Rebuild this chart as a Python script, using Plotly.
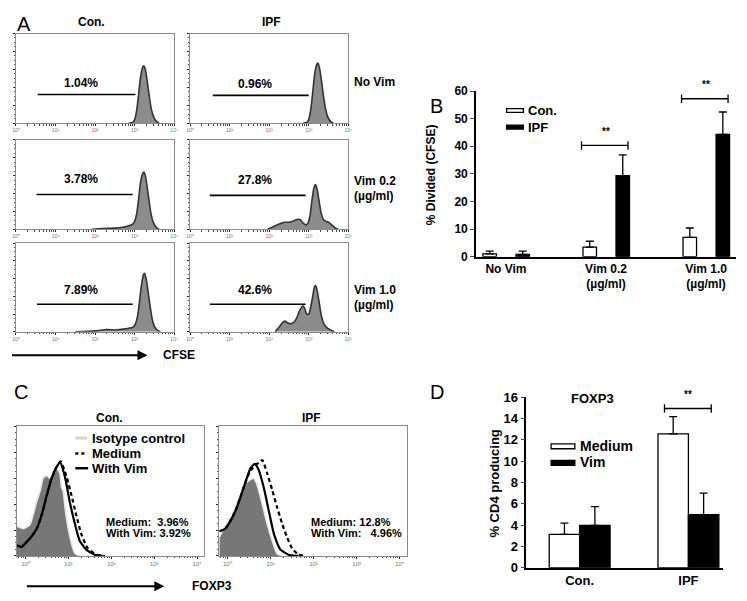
import math
import plotly.graph_objects as go

# The page body has an 8px margin, so the figure is sized to fit the window after it.
OFF = 8
FW, FH = 747 - OFF, 601 - OFF
FONT = "Arial, Liberation Sans, sans-serif"

# ---------------- Panel A data (x = log10 CFSE, y = % of max events) ----------------
cfse_con_novim_x = [2.85, 2.95, 3.0, 3.05, 3.1, 3.15, 3.2, 3.23, 3.27, 3.32, 3.37, 3.42, 3.48, 3.55, 3.62]
cfse_con_novim_y = [0, 1, 4, 14, 32, 52, 62, 64, 60, 46, 30, 16, 7, 2, 0]
cfse_ipf_novim_x = [2.85, 2.95, 3.0, 3.05, 3.1, 3.15, 3.2, 3.23, 3.27, 3.32, 3.37, 3.42, 3.48, 3.55, 3.62]
cfse_ipf_novim_y = [0, 1, 4, 15, 34, 55, 65, 67, 62, 48, 31, 17, 7, 2, 0]
cfse_con_vim02_x = [1.9, 2.2, 2.5, 2.7, 2.85, 2.95, 3.0, 3.05, 3.1, 3.15, 3.2, 3.23, 3.27, 3.32, 3.37, 3.42, 3.48, 3.55, 3.62]
cfse_con_vim02_y = [0, 1, 1.5, 2.5, 4, 6, 9, 17, 34, 53, 62, 64, 60, 46, 30, 16, 7, 2, 0]
cfse_ipf_vim02_x = [1.95, 2.1, 2.25, 2.4, 2.5, 2.6, 2.7, 2.78, 2.86, 2.93, 2.98, 3.03, 3.08, 3.13, 3.17, 3.21, 3.26, 3.31, 3.37, 3.43, 3.5, 3.58, 3.66, 3.75]
cfse_ipf_vim02_y = [0, 3, 6, 8, 8, 9, 11, 11, 7, 5, 7, 15, 32, 46, 50, 45, 32, 19, 11, 9, 8, 5, 2, 0]
cfse_con_vim10_x = [1.5, 2.0, 2.3, 2.5, 2.7, 2.85, 2.95, 3.02, 3.07, 3.12, 3.17, 3.22, 3.25, 3.29, 3.34, 3.39, 3.44, 3.5, 3.57, 3.65]
cfse_con_vim10_y = [0, 1, 2.5, 2, 3, 4, 5, 9, 17, 33, 52, 64, 66, 60, 45, 29, 15, 6, 2, 0]
cfse_ipf_vim10_x = [2.15, 2.25, 2.33, 2.4, 2.47, 2.55, 2.63, 2.7, 2.76, 2.82, 2.86, 2.9, 2.95, 3.0, 3.05, 3.1, 3.14, 3.17, 3.21, 3.26, 3.31, 3.37, 3.45, 3.55, 3.65]
cfse_ipf_vim10_y = [0, 5, 10, 12, 10, 9, 11, 16, 23, 28, 29, 26, 20, 20, 28, 40, 50, 52, 47, 34, 20, 10, 5, 2, 0]

gate_labels = [["1.04%", "0.96%"], ["3.78%", "27.8%"], ["7.89%", "42.6%"]]
gate_start = [[0.55, 0.575], [0.52, 0.50], [0.53, 0.50]]
gate_end = [[3.02, 3.00], [2.95, 2.92], [2.95, 2.92]]
gate_level = [[32, 31], [39, 38], [31, 31]]
row_labels = [["No Vim"], ["Vim 0.2", "(µg/ml)"], ["Vim 1.0", "(µg/ml)"]]
col_titles_A = ["Con.", "IPF"]

# ---------------- Panel B data ----------------
categories_B = ["No Vim", "Vim 0.2<br>(µg/ml)", "Vim 1.0<br>(µg/ml)"]
con_B = [1.0, 3.5, 7.0]
con_B_err = [1.0, 2.1, 3.4]
ipf_B = [0.8, 29.4, 44.3]
ipf_B_err = [1.2, 7.5, 8.1]
sig_B_cat = [1, 2]
sig_B_level = [40.3, 57.2]

# ---------------- Panel C data (x = log10 FOXP3, y = % of max) ----------------
foxp3_con_iso_x = [-0.2, -0.05, 0.1, 0.18, 0.26, 0.34, 0.41, 0.49, 0.57, 0.65, 0.72, 0.8, 0.84, 0.88, 0.92, 0.99, 1.07, 1.15, 1.26]
foxp3_con_iso_y = [23, 21, 24, 32, 42, 50, 60, 62, 60, 65, 68, 64, 53, 50, 38, 22, 10, 2, 0]
foxp3_con_med_x = [-0.2, -0.09, 0.03, 0.14, 0.26, 0.38, 0.49, 0.61, 0.73, 0.82, 0.95, 1.07, 1.18, 1.3, 1.45, 1.65, 1.85]
foxp3_con_med_y = [8, 7, 11, 15, 21, 32, 46, 60, 69, 73, 62, 47, 32, 17, 6, 1, 0]
foxp3_con_vim_x = [-0.2, -0.09, 0.03, 0.14, 0.26, 0.38, 0.49, 0.61, 0.73, 0.81, 0.92, 1.03, 1.15, 1.26, 1.41, 1.61, 1.8]
foxp3_con_vim_y = [8, 7, 11, 15, 21, 32, 46, 60, 69, 72, 61, 42, 25, 12, 5, 1, 0]
foxp3_ipf_iso_x = [-0.18, -0.05, 0.07, 0.19, 0.31, 0.42, 0.54, 0.61, 0.69, 0.81, 0.92, 1.04, 1.15, 1.27]
foxp3_ipf_iso_y = [15, 23, 30, 38, 47, 56, 59, 60, 55, 40, 25, 12, 2, 0]
foxp3_ipf_vim_x = [-0.18, -0.05, 0.07, 0.19, 0.31, 0.42, 0.54, 0.64, 0.73, 0.85, 0.96, 1.08, 1.23, 1.42, 1.65]
foxp3_ipf_vim_y = [19, 21, 27, 35, 46, 57, 68, 71, 66, 52, 35, 17, 5, 1, 0]
foxp3_ipf_med_x = [-0.18, -0.05, 0.07, 0.19, 0.31, 0.42, 0.54, 0.65, 0.73, 0.81, 0.92, 1.04, 1.15, 1.27, 1.39, 1.5, 1.65, 1.8]
foxp3_ipf_med_y = [19, 21, 27, 35, 46, 57, 66, 70, 72, 74, 64, 51, 38, 25, 14, 6, 1, 0]
stats_C = [["Medium:\u00a0\u00a03.96%", "With Vim: 3.92%"], ["Medium: 12.8%", "With Vim:\u00a0\u00a0\u00a04.96%"]]
col_titles_C = ["Con.", "IPF"]

# ---------------- Panel D data ----------------
categories_D = ["Con.", "IPF"]
medium_D = [3.13, 12.55]
medium_D_err = [1.04, 1.62]
vim_D = [3.96, 4.97]
vim_D_err = [1.77, 2.03]
sig_D_cat = [1]
sig_D_level = [14.93]

decade_text = ["10\u2070", "10\u00b9", "10\u00b2", "10\u00b3", "10\u2074"]


def dom_x(a, b):
    return [(a - OFF) / FW, (b - OFF) / FW]


def dom_y(top, bottom):
    return [1 - (bottom - OFF) / FH, 1 - (top - OFF) / FH]


def px(x):
    return (x - OFF) / FW


def py(y):
    return 1 - (y - OFF) / FH


fig = go.Figure()
layout = dict(width=FW, height=FH, margin=dict(l=0, r=0, t=0, b=0, pad=0),
              paper_bgcolor="white", plot_bgcolor="white", showlegend=False,
              font=dict(family=FONT, color="black"), hovermode=False)
annotations = []
shapes = []


def ax_names(i):
    return ("xaxis" if i == 1 else f"xaxis{i}", "yaxis" if i == 1 else f"yaxis{i}",
            "x" if i == 1 else f"x{i}", "y" if i == 1 else f"y{i}")


minor_log = [d + math.log10(k) for d in range(-1, 5) for k in range(2, 10)]


def facs_axes(i, xd, yd, xr, label_size):
    xa, ya, xs, ys = ax_names(i)
    layout[xa] = dict(domain=xd, anchor=ys, range=xr, showgrid=False, zeroline=False,
                      showline=True, linecolor="#8a8a8a", linewidth=1, mirror=True,
                      ticks="outside", ticklen=2, tickcolor="#222", tickwidth=1,
                      tickvals=[0, 1, 2, 3, 4], ticktext=decade_text,
                      tickfont=dict(size=label_size, color="#777"),
                      minor=dict(tickvals=minor_log, ticks="outside", ticklen=1.5, tickcolor="#444"))
    layout[ya] = dict(domain=yd, anchor=xs, range=[0, 100], showgrid=False, zeroline=False,
                      showline=True, linecolor="#8a8a8a", linewidth=1, mirror=True,
                      ticks="outside", ticklen=2, tickcolor="#222",
                      tickvals=[0, 20, 40, 60, 80, 100], showticklabels=False,
                      minor=dict(dtick=5, ticks="outside", ticklen=1, tickcolor="#555"))
    return xs, ys


# ---------------- Panel A ----------------
hist_A = [[(cfse_con_novim_x, cfse_con_novim_y), (cfse_ipf_novim_x, cfse_ipf_novim_y)],
          [(cfse_con_vim02_x, cfse_con_vim02_y), (cfse_ipf_vim02_x, cfse_ipf_vim02_y)],
          [(cfse_con_vim10_x, cfse_con_vim10_y), (cfse_ipf_vim10_x, cfse_ipf_vim10_y)]]
colsA = [(12, 172), (188, 348)]
rowsA = [(27, 119), (136, 228), (242, 333)]
label_offset = [13, 17, 16]
for r in range(3):
    for c in range(2):
        i = r * 2 + c + 1
        xs, ys = facs_axes(i, dom_x(*colsA[c]), dom_y(*rowsA[r]), [0, 4], 5)
        hx, hy = hist_A[r][c]
        fig.add_trace(go.Scatter(x=hx, y=hy, xaxis=xs, yaxis=ys, mode="lines", fill="tozeroy",
                                 fillcolor="#8c8c8c",
                                 line=dict(color="#333", width=1.6, shape="spline", smoothing=0.7)))
        fig.add_trace(go.Scatter(x=[gate_start[r][c], gate_end[r][c]], y=[gate_level[r][c]] * 2,
                                 xaxis=xs, yaxis=ys, mode="lines", line=dict(color="black", width=1.6)))
        annotations.append(dict(x=1.65, y=gate_level[r][c] + label_offset[r], xref=xs, yref=ys,
                                text=f"<b>{gate_labels[r][c]}</b>", showarrow=False,
                                font=dict(size=12), xanchor="center", yanchor="middle"))
    for k, t in enumerate(row_labels[r]):
        yy = [77, 178, 290][r] + 16 * k
        annotations.append(dict(x=px(352), y=py(yy), xref="paper", yref="paper", text=f"<b>{t}</b>",
                                showarrow=False, font=dict(size=12), xanchor="left", yanchor="middle"))

for c in range(2):
    annotations.append(dict(x=px([88, 270][c]), y=py(15), xref="paper", yref="paper",
                            text=f"<b>{col_titles_A[c]}</b>", showarrow=False, font=dict(size=12),
                            xanchor="center", yanchor="middle"))

annotations.append(dict(x=px(145), y=py(357), ax=-137, ay=0, xref="paper", yref="paper", text="",
                        showarrow=True, arrowhead=2, arrowsize=1, arrowwidth=2, arrowcolor="black"))
annotations.append(dict(x=px(177), y=py(357), xref="paper", yref="paper", text="<b>CFSE</b>",
                        showarrow=False, font=dict(size=12), xanchor="center", yanchor="middle"))

# ---------------- Panel B ----------------
xB = list(range(len(categories_B)))
fig.add_trace(go.Bar(x=xB, y=con_B, xaxis="x7", yaxis="y7", width=0.135, offset=-0.23,
                     marker=dict(color="white", line=dict(color="black", width=1.3)),
                     error_y=dict(type="data", symmetric=False, array=con_B_err, arrayminus=[0] * len(xB),
                                  color="black", thickness=1.3, width=4)))
fig.add_trace(go.Bar(x=xB, y=ipf_B, xaxis="x7", yaxis="y7", width=0.135, offset=0.10,
                     marker=dict(color="black", line=dict(color="black", width=1.3)),
                     error_y=dict(type="data", symmetric=False, array=ipf_B_err, arrayminus=[0] * len(xB),
                                  color="black", thickness=1.3, width=4)))
for cat, lvl in zip(sig_B_cat, sig_B_level):
    fig.add_trace(go.Scatter(x=[cat - 0.245, cat + 0.22], y=[lvl, lvl], xaxis="x7", yaxis="y7",
                             mode="lines+markers", cliponaxis=False,
                             line=dict(color="black", width=1.3),
                             marker=dict(symbol="line-ns", size=6, line=dict(color="black", width=1.3))))
    annotations.append(dict(x=cat, y=lvl, yshift=14, xref="x7", yref="y7", text="<b>**</b>", showarrow=False,
                            font=dict(size=10), xanchor="center", yanchor="middle"))
layout["xaxis7"] = dict(domain=dom_x(477, 740), anchor="y7", range=[-0.3, 2.3], showgrid=False,
                        zeroline=False, showline=True, linecolor="black", linewidth=1.5, ticks="",
                        tickvals=xB, ticktext=[f"<b>{t}</b>" for t in categories_B],
                        tickfont=dict(size=12))
layout["yaxis7"] = dict(domain=dom_y(86, 256), anchor="x7", range=[0, 60], dtick=10, showgrid=False,
                        zeroline=False, showline=True, linecolor="black", linewidth=1.5,
                        ticks="outside", ticklen=4, tickwidth=1.3, tickfont=dict(size=12, weight="bold"))
annotations.append(dict(x=px(431), y=py(172), xref="paper", yref="paper", text="<b>% Divided (CFSE)</b>",
                        textangle=-90, showarrow=False, font=dict(size=12), xanchor="center", yanchor="middle"))
# legend B
shapes.append(dict(type="rect", xref="paper", yref="paper", x0=px(508), x1=px(525), y0=py(108), y1=py(104),
                   fillcolor="white", line=dict(color="black", width=1.3)))
shapes.append(dict(type="rect", xref="paper", yref="paper", x0=px(508), x1=px(525), y0=py(125), y1=py(121),
                   fillcolor="black", line=dict(color="black", width=1.3)))
annotations.append(dict(x=px(528), y=py(106), xref="paper", yref="paper", text="<b>Con.</b>", showarrow=False,
                        font=dict(size=13), xanchor="left", yanchor="middle"))
annotations.append(dict(x=px(528), y=py(123), xref="paper", yref="paper", text="<b>IPF</b>", showarrow=False,
                        font=dict(size=13), xanchor="left", yanchor="middle"))

# ---------------- Panel C ----------------
curves_C = [((foxp3_con_iso_x, foxp3_con_iso_y), (foxp3_con_med_x, foxp3_con_med_y), (foxp3_con_vim_x, foxp3_con_vim_y)),
            ((foxp3_ipf_iso_x, foxp3_ipf_iso_y), (foxp3_ipf_med_x, foxp3_ipf_med_y), (foxp3_ipf_vim_x, foxp3_ipf_vim_y))]
colsC = [(13, 202), (217, 407)]
stat_x = [1.82, 1.89]
for c in range(2):
    i = 8 + c
    xs, ys = facs_axes(i, dom_x(*colsC[c]), dom_y(430, 563), [-0.2, 4.16], 6)
    iso, med, vim = curves_C[c]
    fig.add_trace(go.Scatter(x=iso[0], y=iso[1], xaxis=xs, yaxis=ys, mode="lines", fill="tozeroy",
                             fillcolor="#777777", line=dict(color="#e8e8e8", width=1.6, shape="spline", smoothing=0.5)))
    fig.add_trace(go.Scatter(x=med[0], y=med[1], xaxis=xs, yaxis=ys, mode="lines",
                             line=dict(color="black", width=2.2, dash="4px,3px", shape="spline", smoothing=0.5)))
    fig.add_trace(go.Scatter(x=vim[0], y=vim[1], xaxis=xs, yaxis=ys, mode="lines",
                             line=dict(color="black", width=2.2, shape="spline", smoothing=0.5)))
    for k, t in enumerate(stats_C[c]):
        annotations.append(dict(x=stat_x[c], y=[26, 18][k], xref=xs, yref=ys, text=f"<b>{t}</b>",
                                showarrow=False, font=dict(size=11), xanchor="left", yanchor="middle"))
    annotations.append(dict(x=px([107, 311][c]), y=py(421), xref="paper", yref="paper",
                            text=f"<b>{col_titles_C[c]}</b>", showarrow=False, font=dict(size=12),
                            xanchor="center", yanchor="middle"))
# legend C
shapes.append(dict(type="line", xref="paper", yref="paper", x0=px(72), x1=px(84), y0=py(442), y1=py(442),
                   line=dict(color="#d4d4d4", width=3)))
shapes.append(dict(type="line", xref="paper", yref="paper", x0=px(72), x1=px(84), y0=py(458), y1=py(458),
                   line=dict(color="black", width=2.5, dash="dot")))
shapes.append(dict(type="line", xref="paper", yref="paper", x0=px(72), x1=px(85), y0=py(473), y1=py(473),
                   line=dict(color="black", width=2.5)))
for t, yy in zip(["Isotype control", "Medium", "With Vim"], [442, 458, 473]):
    annotations.append(dict(x=px(87), y=py(yy), xref="paper", yref="paper", text=f"<b>{t}</b>",
                            showarrow=False, font=dict(size=13), xanchor="left", yanchor="middle"))
annotations.append(dict(x=px(162), y=py(594), ax=-139, ay=0, xref="paper", yref="paper", text="",
                        showarrow=True, arrowhead=2, arrowsize=1, arrowwidth=2, arrowcolor="black"))
annotations.append(dict(x=px(210), y=py(594), xref="paper", yref="paper", text="<b>FOXP3</b>",
                        showarrow=False, font=dict(size=12), xanchor="center", yanchor="middle"))

# ---------------- Panel D ----------------
xD = list(range(len(categories_D)))
fig.add_trace(go.Bar(x=xD, y=medium_D, xaxis="x10", yaxis="y10", width=0.28, offset=-0.28,
                     marker=dict(color="white", line=dict(color="black", width=1.3)),
                     error_y=dict(type="data", symmetric=False, array=medium_D_err, arrayminus=[0] * len(xD),
                                  color="black", thickness=1.3, width=4)))
fig.add_trace(go.Bar(x=xD, y=vim_D, xaxis="x10", yaxis="y10", width=0.28, offset=0.0,
                     marker=dict(color="black", line=dict(color="black", width=1.3)),
                     error_y=dict(type="data", symmetric=False, array=vim_D_err, arrayminus=[0] * len(xD),
                                  color="black", thickness=1.3, width=4)))
for cat, lvl in zip(sig_D_cat, sig_D_level):
    fig.add_trace(go.Scatter(x=[cat - 0.22, cat + 0.21], y=[lvl, lvl], xaxis="x10", yaxis="y10",
                             mode="lines+markers", cliponaxis=False,
                             line=dict(color="black", width=1.3),
                             marker=dict(symbol="line-ns", size=6, line=dict(color="black", width=1.3))))
    annotations.append(dict(x=cat, y=lvl, yshift=14, xref="x10", yref="y10", text="<b>**</b>", showarrow=False,
                            font=dict(size=10), xanchor="center", yanchor="middle"))
layout["xaxis10"] = dict(domain=dom_x(528, 727), anchor="y10", range=[-0.49, 1.32], showgrid=False,
                         zeroline=False, showline=True, linecolor="black", linewidth=1.5, ticks="",
                         tickvals=xD, ticktext=[f"<b>{t}</b>" for t in categories_D], tickfont=dict(size=13))
layout["yaxis10"] = dict(domain=dom_y(400, 575), anchor="x10", range=[0, 16], dtick=2, showgrid=False,
                         zeroline=False, showline=True, linecolor="black", linewidth=1.5,
                         ticks="outside", ticklen=4, tickwidth=1.3, tickfont=dict(size=13, weight="bold"))
annotations.append(dict(x=px(496), y=py(489), xref="paper", yref="paper", text="<b>% CD4 producing</b>",
                        textangle=-90, showarrow=False, font=dict(size=13), xanchor="center", yanchor="middle"))
annotations.append(dict(x=px(595), y=py(401), xref="paper", yref="paper", text="<b>FOXP3</b>",
                        showarrow=False, font=dict(size=13), xanchor="center", yanchor="middle"))
shapes.append(dict(type="rect", xref="paper", yref="paper", x0=px(553), x1=px(577), y0=py(453), y1=py(448),
                   fillcolor="white", line=dict(color="black", width=1.3)))
shapes.append(dict(type="rect", xref="paper", yref="paper", x0=px(553), x1=px(577), y0=py(470), y1=py(465),
                   fillcolor="black", line=dict(color="black", width=1.3)))
annotations.append(dict(x=px(580), y=py(450), xref="paper", yref="paper", text="<b>Medium</b>", showarrow=False,
                        font=dict(size=14), xanchor="left", yanchor="middle"))
annotations.append(dict(x=px(580), y=py(467), xref="paper", yref="paper", text="<b>Vim</b>", showarrow=False,
                        font=dict(size=14), xanchor="left", yanchor="middle"))

# ---------------- Panel letters ----------------
for t, (lx, ly) in zip(["A", "B", "C", "D"], [(20, 17), (437, 101), (17, 395), (438, 395)]):
    annotations.append(dict(x=px(lx), y=py(ly), xref="paper", yref="paper", text=t, showarrow=False,
                            font=dict(size=20), xanchor="center", yanchor="middle"))

layout["annotations"] = annotations
layout["shapes"] = shapes
fig.update_layout(**layout)
fig.write_html("out.html")
